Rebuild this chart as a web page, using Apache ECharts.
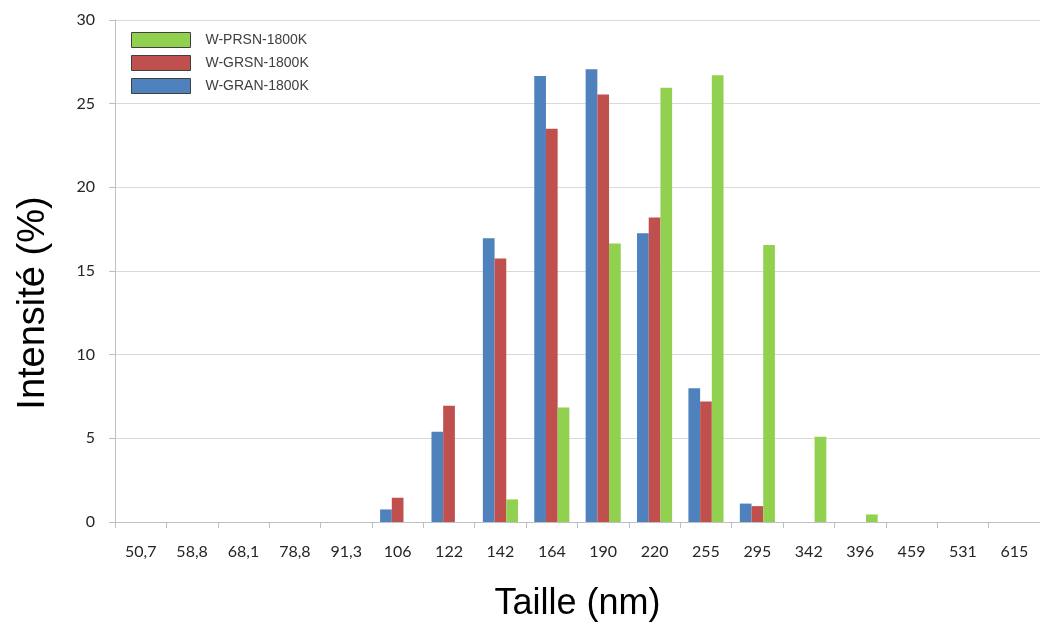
<!DOCTYPE html>
<html>
<head>
<meta charset="utf-8">
<script src="https://cdn.jsdelivr.net/npm/echarts@6/dist/echarts.min.js"></script>
<style>
html,body{margin:0;padding:0;background:#fff;}
#chart{width:1040px;height:628px;}
</style>
</head>
<body>
<div id="chart"></div>
<script>
const categories = ['50,7','58,8','68,1','78,8','91,3','106','122','142','164','190','220','255','295','342','396','459','531','615'];
const seriesNames = ['W-GRAN-1800K','W-GRSN-1800K','W-PRSN-1800K'];
const legendOrder = ['W-PRSN-1800K','W-GRSN-1800K','W-GRAN-1800K'];
const granValues = [0,0,0,0,0,0.75,5.4,16.95,26.65,27.05,17.25,8.0,1.1,0,0,0,0,0];
const grsnValues = [0,0,0,0,0,1.45,6.95,15.75,23.5,25.55,18.2,7.2,0.95,0,0,0,0,0];
const prsnValues = [0,0,0,0,0,0,0,1.35,6.85,16.65,25.95,26.7,16.55,5.1,0.45,0,0,0];
const colors = ['#4F81BD','#C0504D','#92D050'];
const yTitle = 'Intensité (%)';
const xTitle = 'Taille (nm)';

const chart = echarts.init(document.getElementById('chart'), null, {renderer:'canvas'});
const allValues = [granValues, grsnValues, prsnValues];
chart.setOption({
  animation: false,
  backgroundColor: '#ffffff',
  grid: {left: 115, top: 20, width: 930, height: 502, containLabel: false},
  legend: {
    data: legendOrder,
    orient: 'vertical',
    left: 126,
    top: 27,
    itemWidth: 59,
    itemHeight: 15,
    itemGap: 7,
    icon: 'rect',
    itemStyle: {borderColor: '#404040', borderWidth: 1},
    textStyle: {fontFamily: 'Liberation Sans', fontSize: 14, color: '#404040', padding: [0,0,0,10]}
  },
  xAxis: {
    type: 'category',
    data: categories,
    boundaryGap: true,
    name: xTitle,
    nameLocation: 'middle',
    nameGap: 64,
    nameTextStyle: {fontFamily: 'Liberation Sans', fontSize: 36, color: '#000'},
    axisLine: {show: true, lineStyle: {color: '#bfbfbf', width: 1}},
    axisTick: {show: true, length: 6, lineStyle: {color: '#bfbfbf'}},
    axisLabel: {fontFamily: 'Lato', fontSize: 16, color: '#262626', margin: 22, interval: 0}
  },
  yAxis: {
    type: 'value',
    min: 0,
    max: 30,
    interval: 5,
    name: yTitle,
    nameLocation: 'middle',
    nameGap: 62,
    nameTextStyle: {fontFamily: 'Liberation Sans', fontSize: 38, color: '#000', padding: [0, 64, 0, 0]},
    axisLine: {show: true, lineStyle: {color: '#bfbfbf', width: 1}},
    axisTick: {show: true, length: 6, lineStyle: {color: '#bfbfbf'}},
    axisLabel: {fontFamily: 'Lato', fontSize: 16, color: '#262626', margin: 20},
    splitLine: {show: true, lineStyle: {color: '#d9d9d9', width: 1.2}}
  },
  series: seriesNames.map((n, i) => ({
    name: n,
    type: 'bar',
    data: allValues[i],
    barWidth: 11.7,
    barGap: '0%',
    itemStyle: {color: colors[i]}
  }))
});
</script>
</body>
</html>
